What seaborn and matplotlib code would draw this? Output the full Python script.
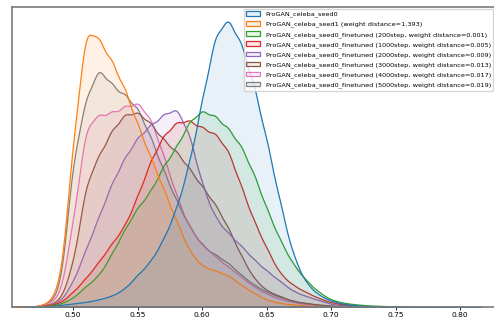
import matplotlib
matplotlib.use("Agg")
import matplotlib.pyplot as plt
import seaborn as sns
import pandas as pd
import numpy as np

# score grid the curve heights were read at
x_grid = [0.47, 0.48, 0.49, 0.50, 0.51, 0.52, 0.53, 0.54, 0.55, 0.56, 0.57, 0.58,
          0.59, 0.60, 0.61, 0.62, 0.63, 0.64, 0.65, 0.66, 0.67, 0.68, 0.69, 0.70,
          0.71, 0.72, 0.73, 0.74, 0.75, 0.76, 0.77, 0.78, 0.79, 0.80, 0.81]

# relative curve heights at each grid point
seed0 = [0, 0.5, 2, 3.5, 5, 7.5, 11, 18, 32, 45, 67, 97, 142, 205, 270, 287, 262,
         220, 165, 105, 52, 24, 12, 6, 3, 1.5, 0.8, 0.5, 0.3, 0.2, 0.2, 0.3, 0.5, 0.3, 0]
seed1 = [0.5, 3, 20, 165, 280, 265, 243, 216, 180, 148, 117, 85, 55, 40, 36, 32, 22,
         14, 7, 4, 2.5, 1.5, 1, 0.5, 0.2, 0, 0, 0, 0, 0, 0, 0, 0, 0, 0]
ft200 = [0.1, 1, 3, 9, 21, 31, 53, 77, 99, 114, 140, 158, 184, 195, 189, 177, 160,
         132, 97, 67, 43, 27, 15, 7, 4, 2.5, 1.5, 1, 0.6, 0.3, 0, 0, 0, 0, 0]
ft1000 = [0.2, 1.5, 4, 15, 29, 45, 63, 80, 110, 145, 170, 183, 185, 177, 172, 156,
          120, 85, 58, 33, 22, 15, 9, 4.5, 2.5, 1.2, 0.6, 0.3, 0, 0, 0, 0, 0, 0, 0]
ft2000 = [0.2, 1.5, 5, 25, 58, 90, 123, 148, 168, 180, 190, 198, 172, 120, 88, 73,
          61, 47, 36, 26, 16, 11, 7, 3, 1.5, 0.7, 0.3, 0, 0, 0, 0, 0, 0, 0, 0]
ft3000 = [0.3, 2, 6, 42, 124, 150, 175, 191, 193, 182, 165, 154, 137, 119, 102, 79,
          51, 28, 16, 11, 6, 4, 2.5, 1.5, 0.7, 0.3, 0, 0, 0, 0, 0, 0, 0, 0, 0]
ft4000 = [0.5, 3, 10, 85, 182, 190, 192, 198, 203, 187, 150, 110, 78, 62, 50, 40,
          30, 20, 13, 8, 5, 3, 2, 1, 0.5, 0, 0, 0, 0, 0, 0, 0, 0, 0, 0]
ft5000 = [0.5, 3, 14, 148, 208, 238, 219, 210, 197, 168, 135, 105, 80, 60, 52, 44,
          32, 22, 15, 10, 6, 4, 2, 1, 0.5, 0, 0, 0, 0, 0, 0, 0, 0, 0, 0]

labels = [
    "ProGAN_celeba_seed0",
    "ProGAN_celeba_seed1 (weight distance=1.393)",
    "ProGAN_celeba_seed0_finetuned (200step, weight distance=0.001)",
    "ProGAN_celeba_seed0_finetuned (1000step, weight distance=0.005)",
    "ProGAN_celeba_seed0_finetuned (2000step, weight distance=0.009)",
    "ProGAN_celeba_seed0_finetuned (3000step, weight distance=0.013)",
    "ProGAN_celeba_seed0_finetuned (4000step, weight distance=0.017)",
    "ProGAN_celeba_seed0_finetuned (5000step, weight distance=0.019)",
]
series = [seed0, seed1, ft200, ft1000, ft2000, ft3000, ft4000, ft5000]

frames = []
for lab, vals in zip(labels, series):
    frames.append(pd.DataFrame({"score": x_grid, "height": vals, "model": lab}))
df = pd.concat(frames, ignore_index=True)
df = df[df["height"] > 0]

kernel_sd = 0.0055


def fixed_bw(kde):
    # same absolute kernel width for every curve
    sd = np.sqrt(np.cov(kde.dataset[0], aweights=kde.weights))
    return kernel_sd / sd


fig = plt.figure(figsize=(4.94, 3.2), dpi=100)
ax = fig.add_axes([12 / 494, 13 / 320, 483 / 494, 300 / 320])

sns.kdeplot(data=df, x="score", weights="height", hue="model", hue_order=labels,
            palette="tab10", bw_method=fixed_bw, common_norm=True,
            fill=True, alpha=0.1, linewidth=0.9, ax=ax)

ax.set_xlim(0.4526, 0.827)
ax.set_yticks([])
ax.set_xlabel("")
ax.set_ylabel("")
ax.tick_params(axis="x", labelsize=5.4, length=2, width=0.6, pad=1.5)
for side in ["left", "top", "bottom"]:
    ax.spines[side].set_color("#7a7a7a")
    ax.spines[side].set_linewidth(1.2)
ax.spines["right"].set_visible(False)

sns.move_legend(ax, "upper right", title=None, fontsize=4.65,
                borderaxespad=0.25, handlelength=2.2, labelspacing=0.6)

fig.savefig("out.png", dpi=100)
